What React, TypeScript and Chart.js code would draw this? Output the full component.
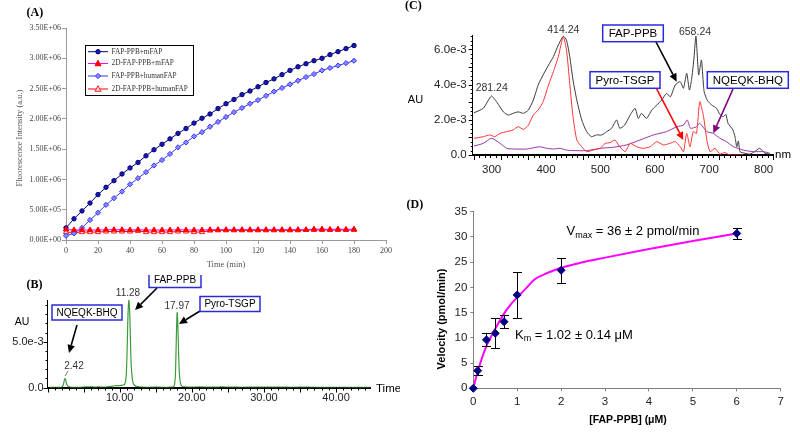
import React, { useEffect, useRef } from "react";
import { Chart, registerables } from "chart.js";
Chart.register(...registerables);

// ---------------- Panel A data (fluorescence, x1e6 a.u.) ----------------
const aTime = [0, 5, 10, 15, 20, 25, 30, 35, 40, 45, 50, 55, 60, 65, 70, 75, 80, 85, 90, 95, 100, 105, 110, 115, 120, 125, 130, 135, 140, 145, 150, 155, 160, 165, 170, 175, 180];
const aFapMouse = [0.2, 0.35, 0.48, 0.61, 0.75, 0.87, 0.98, 1.09, 1.19, 1.28, 1.39, 1.49, 1.58, 1.67, 1.76, 1.84, 1.93, 2.01, 2.08, 2.17, 2.25, 2.32, 2.4, 2.46, 2.53, 2.6, 2.66, 2.73, 2.8, 2.86, 2.91, 2.96, 3.0, 3.06, 3.11, 3.16, 3.21];
const a2dMouse = [0.175, 0.165, 0.165, 0.165, 0.165, 0.17, 0.17, 0.17, 0.165, 0.17, 0.165, 0.165, 0.165, 0.165, 0.17, 0.165, 0.165, 0.165, 0.17, 0.17, 0.17, 0.17, 0.17, 0.17, 0.17, 0.17, 0.17, 0.17, 0.17, 0.17, 0.17, 0.18, 0.18, 0.175, 0.18, 0.175, 0.18];
const aFapHuman = [0.07, 0.11, 0.2, 0.33, 0.45, 0.58, 0.69, 0.8, 0.92, 1.02, 1.12, 1.23, 1.32, 1.42, 1.53, 1.61, 1.71, 1.78, 1.87, 1.95, 2.03, 2.11, 2.18, 2.25, 2.31, 2.38, 2.45, 2.51, 2.57, 2.63, 2.69, 2.74, 2.8, 2.84, 2.88, 2.92, 2.96];
const a2dHuman = [0.13, 0.125, 0.13, 0.13, 0.13, 0.14, 0.14, 0.14, 0.14, 0.15, 0.13, 0.13, 0.13, 0.13, 0.14, 0.14, 0.13, 0.13, 0.155, 0.16, 0.16, 0.16, 0.16, 0.16, 0.16, 0.16, 0.16, 0.16, 0.16, 0.16, 0.165, 0.165, 0.165, 0.165, 0.165, 0.165, 0.165];
const aLabels = ["FAP-PPB+mFAP", "2D-FAP-PPB+mFAP", "FAP-PPB+humanFAP", "2D-FAP-PPB+humanFAP"];

// ---------------- Panel B data (chromatogram, mAU vs min) ----------------
const bTime = [0.3, 1.0, 1.5, 2.0, 2.2, 2.3, 2.42, 2.55, 2.7, 2.9, 3.2, 4, 5, 6, 6.5, 7, 8, 8.5, 9, 9.5, 10, 10.4, 10.7, 10.9, 11.05, 11.15, 11.28, 11.4, 11.5, 11.6, 11.75, 11.9, 12.2, 12.6, 13, 14, 15, 16, 17, 17.5, 17.7, 17.8, 17.9, 17.97, 18.05, 18.15, 18.25, 18.4, 18.6, 19, 20, 21, 22, 23, 24, 25, 26, 27, 28, 29, 30, 32, 34, 36, 38, 40, 42, 44, 44.7];
const bAbs = [0.02, 0.03, 0.02, 0.05, 0.3, 0.7, 1.0, 0.7, 0.3, 0.1, 0.03, 0.02, 0.04, 0.08, 0.04, 0.06, 0.05, 0.1, 0.15, 0.2, 0.22, 0.25, 0.35, 1.2, 4.5, 7.8, 9.6, 8.0, 5.0, 2.5, 1.0, 0.4, 0.15, 0.1, 0.05, 0.03, 0.04, 0.02, 0.04, 0.1, 1.0, 3.5, 6.8, 8.2, 7.2, 4.5, 2.0, 0.6, 0.15, 0.08, 0.05, 0.06, 0.05, 0.04, 0.06, 0.05, 0.04, 0.03, 0.05, 0.04, 0.05, 0.04, 0.03, 0.04, 0.02, 0.03, 0.02, 0.02, 0.02];
const bXTicks = [10, 20, 30, 40];
const bYTicks = [0, 5];

// ---------------- Panel C data (UV spectra, mAU vs nm) ----------------
const cFapPPB: [number, number][] = [[250, 2.4], [267, 2.65], [282, 3.35], [292, 3.0], [304, 2.45], [313, 2.27], [322, 2.37], [331, 2.45], [341, 2.37], [350, 2.56], [359, 3.12], [368, 3.98], [377, 4.55], [387, 5.11], [396, 5.59], [405, 6.25], [414, 6.75], [420, 6.53], [426, 5.59], [432, 4.26], [439, 3.12], [448, 1.99], [457, 1.33], [466, 1.04], [475, 1.14], [485, 1.14], [494, 1.33], [503, 1.52], [512, 1.99], [518, 1.52], [527, 1.7], [537, 2.27], [546, 2.65], [552, 2.08], [558, 2.37], [567, 2.08], [577, 2.56], [586, 2.84], [595, 3.12], [604, 3.5], [611, 3.31], [620, 3.98], [629, 4.17], [635, 3.79], [641, 4.64], [646, 3.69], [650, 4.3], [654, 5.4], [658, 6.75], [663, 4.55], [668, 5.4], [673, 3.6], [679, 3.1], [687, 2.84], [696, 2.65], [702, 2.3], [708, 2.18], [713, 2.3], [717, 1.8], [726, 1.42], [730, 1.0], [733, 0.47], [736, 0.8], [739, 0.19], [748, 0.1], [757, 0.05], [766, 0.19], [775, 0.38], [785, 0.1], [794, 0.05]];
const cPyroTSGP: [number, number][] = [[250, 0.95], [267, 1.04], [279, 1.14], [288, 1.04], [298, 1.23], [310, 1.33], [322, 1.42], [331, 1.61], [341, 1.46], [350, 1.7], [359, 2.27], [368, 2.56], [377, 3.03], [387, 3.98], [396, 4.74], [405, 5.59], [414, 6.72], [420, 5.97], [426, 4.07], [432, 2.18], [439, 0.85], [448, 0.47], [457, 0.19], [469, 0.28], [482, 0.38], [491, 0.66], [500, 0.7], [509, 0.85], [518, 0.47], [528, 0.19], [537, 0.66], [549, 0.47], [561, 0.38], [574, 0.47], [586, 0.76], [598, 0.57], [610, 0.66], [620, 0.76], [629, 0.47], [635, 0.19], [641, 1.23], [647, 0.47], [653, 1.33], [659, 1.23], [665, 3.03], [672, 2.18], [678, 0.85], [684, 0.19], [693, 0.38], [702, 0.05], [711, 0.14], [720, 0.0], [745, 0.0]];
const cNqeqkBHQ: [number, number][] = [[250, 0.51], [267, 0.66], [282, 0.95], [298, 0.66], [310, 0.38], [322, 0.34], [347, 0.34], [371, 0.47], [383, 0.38], [396, 0.34], [408, 0.38], [420, 0.28], [432, 0.25], [457, 0.25], [482, 0.38], [506, 0.44], [530, 0.57], [555, 0.85], [580, 1.14], [604, 1.33], [623, 1.61], [635, 1.7], [642, 1.99], [648, 1.52], [659, 1.61], [665, 1.8], [678, 1.33], [690, 1.23], [702, 0.95], [714, 0.76], [727, 0.47], [745, 0.28], [763, 0.19], [782, 0.19], [794, 0.1]];
const cXTicks = [300, 400, 500, 600, 700, 800];
const cYTicks = [0, 2, 4, 6];

// ---------------- Panel D data (kinetics) ----------------
const dConc = [0, 0.1, 0.3, 0.5, 0.7, 1, 2, 6];
const dVel = [0, 3.5, 9.6, 10.9, 13.2, 18.5, 23.4, 30.7];
const dErr = [0, 0.9, 1.3, 3.0, 1.25, 4.6, 2.45, 1.05];
const dFitConc = [0, 0.1, 0.3, 0.5, 0.7, 0.85, 1, 1.2, 1.4, 1.7, 2, 2.4, 3, 4, 5, 6];
const dFitVel = [0, 3.3, 8.4, 11.8, 14.8, 16.6, 18, 19.8, 21.6, 22.9, 23.9, 24.8, 25.9, 27.6, 29.2, 30.7];

const SANS = "'Liberation Sans', Arial, sans-serif";
const SERIF = "'Liberation Serif', 'Times New Roman', serif";

function fmtE(v: number): string {
  if (Math.abs(v) < 1e-9) return "0.00E+00";
  const e = Math.floor(Math.log10(Math.abs(v)) + 1e-9);
  const m = v / Math.pow(10, e);
  return m.toFixed(2) + "E+" + String(e).padStart(2, "0");
}

type Txt = { t: string; x: number; y: number; f: string; c?: string; a?: CanvasTextAlign; r?: number };
type Box = { x: number; y: number; w: number; h: number; label: string; f: string };
type Arr = { x1: number; y1: number; x2: number; y2: number; c: string; w?: number };
type Rich = { x: number; y: number; parts: { t: string; f: string; dy?: number }[]; c?: string };

function drawMarker(ctx: CanvasRenderingContext2D, style: string, x: number, y: number, r: number, fill: string, stroke: string) {
  ctx.beginPath();
  if (style === "circle") ctx.arc(x, y, r, 0, Math.PI * 2);
  else if (style === "triangle") {
    ctx.moveTo(x, y - r * 1.1);
    ctx.lineTo(x + r, y + r * 0.75);
    ctx.lineTo(x - r, y + r * 0.75);
    ctx.closePath();
  } else {
    ctx.moveTo(x, y - r);
    ctx.lineTo(x + r, y);
    ctx.lineTo(x, y + r);
    ctx.lineTo(x - r, y);
    ctx.closePath();
  }
  ctx.fillStyle = fill;
  ctx.fill();
  ctx.strokeStyle = stroke;
  ctx.lineWidth = 1;
  ctx.stroke();
}

function overlayPlugin(ox: number, oy: number, o: { texts?: Txt[]; boxes?: Box[]; arrows?: Arr[]; rich?: Rich[]; segs?: Arr[] }, extra?: (ctx: CanvasRenderingContext2D) => void) {
  return {
    id: "overlay",
    afterDraw(chart: any) {
      const ctx = chart.ctx as CanvasRenderingContext2D;
      ctx.save();
      ctx.translate(-ox, -oy);
      ctx.textBaseline = "middle";
      (o.segs || []).forEach((s) => {
        ctx.beginPath();
        ctx.strokeStyle = s.c;
        ctx.lineWidth = s.w ?? 1;
        ctx.moveTo(s.x1, s.y1);
        ctx.lineTo(s.x2, s.y2);
        ctx.stroke();
      });
      (o.arrows || []).forEach((a) => {
        const ang = Math.atan2(a.y2 - a.y1, a.x2 - a.x1);
        const hl = 8, hw = 3.8;
        const bx = a.x2 - hl * Math.cos(ang), by = a.y2 - hl * Math.sin(ang);
        ctx.strokeStyle = a.c;
        ctx.fillStyle = a.c;
        ctx.lineWidth = a.w ?? 1.6;
        ctx.beginPath();
        ctx.moveTo(a.x1, a.y1);
        ctx.lineTo(bx, by);
        ctx.stroke();
        ctx.beginPath();
        ctx.moveTo(a.x2, a.y2);
        ctx.lineTo(bx + hw * Math.sin(ang), by - hw * Math.cos(ang));
        ctx.lineTo(bx - hw * Math.sin(ang), by + hw * Math.cos(ang));
        ctx.closePath();
        ctx.fill();
      });
      (o.boxes || []).forEach((b) => {
        ctx.fillStyle = "#fff";
        ctx.fillRect(b.x, b.y, b.w, b.h);
        ctx.strokeStyle = "#2b2bdc";
        ctx.lineWidth = 1.5;
        ctx.strokeRect(b.x, b.y, b.w, b.h);
        ctx.fillStyle = "#000";
        ctx.font = b.f;
        ctx.textAlign = "center";
        ctx.fillText(b.label, b.x + b.w / 2, b.y + b.h / 2 + 0.5);
      });
      (o.texts || []).forEach((t) => {
        ctx.save();
        ctx.font = t.f;
        ctx.fillStyle = t.c || "#000";
        ctx.textAlign = t.a || "left";
        ctx.translate(t.x, t.y);
        if (t.r) ctx.rotate(t.r);
        ctx.fillText(t.t, 0, 0);
        ctx.restore();
      });
      (o.rich || []).forEach((r) => {
        let x = r.x;
        ctx.fillStyle = r.c || "#000";
        ctx.textAlign = "left";
        r.parts.forEach((p) => {
          ctx.font = p.f;
          ctx.fillText(p.t, x, r.y + (p.dy || 0));
          x += ctx.measureText(p.t).width;
        });
      });
      if (extra) extra(ctx);
      ctx.restore();
    },
  };
}

function minorTicksPlugin(cfg: { xStep: number; xMajor: number; yStep: number; yMajor: number; xLen: [number, number]; yLen: [number, number] }) {
  return {
    id: "minorTicks",
    afterDraw(chart: any) {
      const ctx = chart.ctx as CanvasRenderingContext2D;
      const xs = chart.scales.x, ys = chart.scales.y, a = chart.chartArea;
      ctx.save();
      ctx.strokeStyle = "#000";
      ctx.lineWidth = 1;
      ctx.beginPath();
      const i0 = Math.ceil(xs.min / cfg.xStep - 1e-9), i1 = Math.floor(xs.max / cfg.xStep + 1e-9);
      for (let i = i0; i <= i1; i++) {
        const v = i * cfg.xStep;
        const maj = Math.abs(v / cfg.xMajor - Math.round(v / cfg.xMajor)) < 1e-6;
        const px = Math.round(xs.getPixelForValue(v)) + 0.5;
        ctx.moveTo(px, a.bottom);
        ctx.lineTo(px, a.bottom + (maj ? cfg.xLen[1] : cfg.xLen[0]));
      }
      const j0 = Math.ceil(ys.min / cfg.yStep - 1e-9), j1 = Math.floor(ys.max / cfg.yStep + 1e-9);
      for (let j = j0; j <= j1; j++) {
        const v = j * cfg.yStep;
        const maj = Math.abs(v / cfg.yMajor - Math.round(v / cfg.yMajor)) < 1e-6;
        const py = Math.round(ys.getPixelForValue(v)) + 0.5;
        ctx.moveTo(a.left, py);
        ctx.lineTo(a.left - (maj ? cfg.yLen[1] : cfg.yLen[0]), py);
      }
      ctx.stroke();
      ctx.restore();
    },
  };
}

function makeA(canvas: HTMLCanvasElement) {
  const series = [aFapMouse, a2dMouse, aFapHuman, a2dHuman];
  const lineC = ["#000080", "#ff00ff", "#3535ff", "#ff0000"];
  const fillC = ["#1a1aa8", "#ff0000", "#8888ff", "#ffd6d6"];
  const strokeC = ["#000080", "#ff0000", "#3535ff", "#ff2020"];
  const styles = ["circle", "triangle", "rectRot", "triangle"];
  const radii = [2.2, 3, 2.6, 3];
  const orders = [1, 0, 2, 3];
  const legendY = [51.7, 63.5, 76, 89];
  return new Chart(canvas, {
    type: "line",
    data: {
      datasets: series.map((s, k) => ({
        label: aLabels[k],
        data: aTime.map((t, i) => ({ x: t, y: s[i] })),
        borderColor: lineC[k],
        borderWidth: 1,
        backgroundColor: fillC[k],
        pointBackgroundColor: fillC[k],
        pointBorderColor: strokeC[k],
        pointBorderWidth: 1,
        pointStyle: styles[k] as any,
        pointRadius: radii[k],
        order: orders[k],
        clip: false as any,
        tension: 0,
      })),
    },
    options: {
      animation: false,
      responsive: false,
      layout: { padding: { left: 0, top: 28, right: 14, bottom: 0 } },
      plugins: { legend: { display: false }, tooltip: { enabled: false } },
      scales: {
        x: {
          type: "linear",
          min: 0,
          max: 200,
          ticks: { stepSize: 20, font: { family: SERIF, size: 8 }, color: "#444", padding: 2, maxRotation: 0 },
          grid: { drawOnChartArea: false, drawTicks: true, tickLength: 4, color: "#999" },
          border: { color: "#999" },
          afterFit: (s: any) => { s.height = 35; },
        },
        y: {
          min: 0,
          max: 3.5,
          ticks: { stepSize: 0.5, font: { family: SERIF, size: 8 }, color: "#444", padding: 1, callback: (v: any) => fmtE(Number(v) * 1e6) },
          grid: { drawOnChartArea: false, drawTicks: true, tickLength: 4, color: "#999" },
          border: { color: "#999" },
          afterFit: (s: any) => { s.width = 66; },
        },
      },
    },
    plugins: [
      overlayPlugin(0, 0, {
        texts: [
          { t: "(A)", x: 26.5, y: 13, f: `bold 12px ${SERIF}` },
          { t: "Fluorescence Intensity (a.u.)", x: 20, y: 138, f: `8.5px ${SERIF}`, c: "#555", a: "center", r: -Math.PI / 2 },
          { t: "Time (min)", x: 226, y: 265, f: `8.5px ${SERIF}`, c: "#555", a: "center" },
        ],
      }, (ctx) => {
        ctx.fillStyle = "#fff";
        ctx.fillRect(85, 45, 108, 50);
        ctx.strokeStyle = "#000";
        ctx.lineWidth = 1;
        ctx.strokeRect(85.5, 45.5, 108, 50);
        legendY.forEach((y, k) => {
          ctx.beginPath();
          ctx.strokeStyle = lineC[k];
          ctx.lineWidth = 1;
          ctx.moveTo(88, y);
          ctx.lineTo(108, y);
          ctx.stroke();
          drawMarker(ctx, styles[k], 98, y, radii[k], fillC[k], strokeC[k]);
          ctx.fillStyle = "#333";
          ctx.font = `7.3px ${SERIF}`;
          ctx.textAlign = "left";
          ctx.fillText(aLabels[k], 111.5, y);
        });
      }) as any,
    ],
  });
}

function makeB(canvas: HTMLCanvasElement) {
  const ox = 0, oy = 275;
  return new Chart(canvas, {
    type: "line",
    data: {
      datasets: [{
        data: bTime.map((t, i) => ({ x: t, y: bAbs[i] })),
        borderColor: "#3c9c3c",
        borderWidth: 1.2,
        pointRadius: 0,
        tension: 0.3,
      }],
    },
    options: {
      animation: false,
      responsive: false,
      layout: { padding: { left: 0, top: 25, right: 30, bottom: 0 } },
      plugins: { legend: { display: false }, tooltip: { enabled: false } },
      scales: {
        x: {
          type: "linear",
          min: 0,
          max: 44.7,
          afterBuildTicks: (s: any) => { s.ticks = bXTicks.map((v) => ({ value: v })); },
          ticks: { font: { family: SANS, size: 11 }, color: "#222", padding: 4, maxRotation: 0, autoSkip: false, callback: (v: any) => Number(v).toFixed(2) },
          grid: { display: false, drawTicks: false },
          border: { display: true, color: "#000", width: 2 },
          afterFit: (s: any) => { s.height = 46.5; },
        },
        y: {
          min: 0,
          max: 9.57,
          afterBuildTicks: (s: any) => { s.ticks = bYTicks.map((v) => ({ value: v })); },
          ticks: { font: { family: SANS, size: 11 }, color: "#222", padding: 4, autoSkip: false, callback: (v: any) => (Number(v) === 0 ? "0.0" : Number(v).toFixed(1) + "e-3") },
          grid: { display: false, drawTicks: false },
          border: { display: true, color: "#000", width: 1 },
          afterFit: (s: any) => { s.width = 47.5; },
        },
      },
    },
    plugins: [
      minorTicksPlugin({ xStep: 1, xMajor: 5, yStep: 1, yMajor: 5, xLen: [3, 5], yLen: [2, 4] }) as any,
      overlayPlugin(ox, oy, {
        texts: [
          { t: "(B)", x: 26.5, y: 285, f: `bold 12px ${SERIF}` },
          { t: "AU", x: 22, y: 322, f: `10.5px ${SANS}`, a: "center" },
          { t: "Time", x: 376, y: 389, f: `11.5px ${SANS}` },
          { t: "11.28", x: 128, y: 293, f: `10px ${SANS}`, c: "#333", a: "center" },
          { t: "17.97", x: 177, y: 306.5, f: `10px ${SANS}`, c: "#333", a: "center" },
          { t: "2.42", x: 74, y: 366.5, f: `10px ${SANS}`, c: "#333", a: "center" },
        ],
        segs: [{ x1: 68, y1: 371, x2: 65, y2: 376, c: "#555", w: 0.8 }],
        arrows: [
          { x1: 77, y1: 325, x2: 69, y2: 353, c: "#000" },
          { x1: 157, y1: 288, x2: 135, y2: 310, c: "#000" },
          { x1: 200, y1: 311, x2: 179, y2: 324, c: "#000" },
        ],
        boxes: [
          { x: 52, y: 305, w: 70, h: 15, label: "NQEQK-BHQ", f: `10px ${SANS}` },
          { x: 149, y: 272.5, w: 52, h: 15, label: "FAP-PPB", f: `10px ${SANS}` },
          { x: 200, y: 296.5, w: 60, h: 15, label: "Pyro-TSGP", f: `10px ${SANS}` },
        ],
      }) as any,
    ],
  });
}

function makeC(canvas: HTMLCanvasElement) {
  const ox = 400, oy = 0;
  const mk = (pts: [number, number][], color: string) => ({
    data: pts.map((p) => ({ x: p[0], y: p[1] })),
    borderColor: color,
    borderWidth: 1,
    pointRadius: 0,
    tension: 0.2,
  });
  return new Chart(canvas, {
    type: "line",
    data: { datasets: [mk(cPyroTSGP, "#ff3333"), mk(cNqeqkBHQ, "#9933aa"), mk(cFapPPB, "#3a3a3a")] },
    options: {
      animation: false,
      responsive: false,
      layout: { padding: { left: 0, top: 35, right: 26.8, bottom: 0 } },
      plugins: { legend: { display: false }, tooltip: { enabled: false } },
      scales: {
        x: {
          type: "linear",
          min: 247.6,
          max: 800,
          afterBuildTicks: (s: any) => { s.ticks = cXTicks.map((v) => ({ value: v })); },
          ticks: { font: { family: SANS, size: 11.5 }, color: "#222", padding: 8, align: "end", maxRotation: 0, autoSkip: false },
          grid: { display: false, drawTicks: false },
          border: { display: true, color: "#000", width: 2 },
          afterFit: (s: any) => { s.height = 25; },
        },
        y: {
          min: 0,
          max: 6.82,
          afterBuildTicks: (s: any) => { s.ticks = cYTicks.map((v) => ({ value: v })); },
          ticks: { font: { family: SANS, size: 11.5 }, color: "#222", padding: 6, autoSkip: false, callback: (v: any) => (Number(v) === 0 ? "0.0" : Number(v).toFixed(1) + "e-3") },
          grid: { display: false, drawTicks: false },
          border: { display: true, color: "#000", width: 1 },
          afterFit: (s: any) => { s.width = 72.7; },
        },
      },
    },
    plugins: [
      minorTicksPlugin({ xStep: 10, xMajor: 50, yStep: 0.25, yMajor: 1, xLen: [3, 5], yLen: [2, 4] }) as any,
      overlayPlugin(ox, oy, {
        texts: [
          { t: "(C)", x: 405, y: 6, f: `bold 12px ${SERIF}` },
          { t: "AU", x: 415.5, y: 100, f: `11px ${SANS}`, a: "center" },
          { t: "nm", x: 775, y: 155, f: `11.5px ${SANS}` },
          { t: "414.24", x: 563.3, y: 30, f: `10.5px ${SANS}`, c: "#333", a: "center" },
          { t: "281.24", x: 491.7, y: 88.3, f: `10.5px ${SANS}`, c: "#333", a: "center" },
          { t: "658.24", x: 695, y: 31.7, f: `10.5px ${SANS}`, c: "#333", a: "center" },
        ],
        arrows: [
          { x1: 655, y1: 40, x2: 676.7, y2: 81.7, c: "#000" },
          { x1: 656.7, y1: 89, x2: 683.3, y2: 140, c: "#ff0000" },
          { x1: 733, y1: 89, x2: 713.3, y2: 133.3, c: "#800080" },
        ],
        boxes: [
          { x: 602.7, y: 25, w: 60.6, h: 16.7, label: "FAP-PPB", f: `11.5px ${SANS}` },
          { x: 590, y: 71.7, w: 70, h: 16.6, label: "Pyro-TSGP", f: `11.5px ${SANS}` },
          { x: 707.3, y: 71.7, w: 81, h: 16.6, label: "NQEQK-BHQ", f: `11.5px ${SANS}` },
        ],
      }) as any,
    ],
  });
}

function makeD(canvas: HTMLCanvasElement) {
  const ox = 400, oy = 180;
  const errPlugin = {
    id: "errbars",
    afterDatasetDraw(chart: any, args: any) {
      if (args.index !== 1) return;
      const ctx = chart.ctx as CanvasRenderingContext2D;
      const xs = chart.scales.x, ys = chart.scales.y;
      ctx.save();
      ctx.strokeStyle = "#000";
      ctx.lineWidth = 1;
      ctx.beginPath();
      dConc.forEach((c, i) => {
        if (!dErr[i]) return;
        const px = Math.round(xs.getPixelForValue(c)) + 0.5;
        const t = Math.round(ys.getPixelForValue(dVel[i] + dErr[i])) + 0.5;
        const b = Math.round(ys.getPixelForValue(dVel[i] - dErr[i])) + 0.5;
        ctx.moveTo(px, t); ctx.lineTo(px, b);
        ctx.moveTo(px - 4.5, t); ctx.lineTo(px + 4.5, t);
        ctx.moveTo(px - 4.5, b); ctx.lineTo(px + 4.5, b);
      });
      ctx.stroke();
      ctx.restore();
    },
  };
  return new Chart(canvas, {
    type: "scatter",
    data: {
      datasets: [
        {
          data: dConc.map((c, i) => ({ x: c, y: dVel[i] })),
          pointStyle: "rectRot",
          pointRadius: 4,
          pointBackgroundColor: "#000080",
          pointBorderColor: "#000080",
          showLine: false,
          clip: false as any,
        },
        {
          data: dFitConc.map((c, i) => ({ x: c, y: dFitVel[i] })),
          showLine: true,
          borderColor: "#ff00ff",
          borderWidth: 2,
          pointRadius: 0,
          cubicInterpolationMode: "monotone",
        } as any,
      ],
    },
    options: {
      animation: false,
      responsive: false,
      layout: { padding: { left: 0, top: 31.7, right: 19.3, bottom: 0 } },
      plugins: { legend: { display: false }, tooltip: { enabled: false } },
      scales: {
        x: {
          type: "linear",
          min: 0,
          max: 7,
          ticks: { stepSize: 1, font: { family: SANS, size: 11.5 }, color: "#222", padding: 4, maxRotation: 0 },
          grid: { drawOnChartArea: false, drawTicks: true, tickLength: 3, color: "#808080" },
          border: { color: "#808080" },
          afterFit: (s: any) => { s.height = 45.7; },
        },
        y: {
          min: 0,
          max: 35,
          ticks: { stepSize: 5, font: { family: SANS, size: 11.5 }, color: "#222", padding: 3 },
          grid: { drawOnChartArea: false, drawTicks: true, tickLength: 3, color: "#808080" },
          border: { color: "#808080" },
          afterFit: (s: any) => { s.width = 73.3; },
        },
      },
    },
    plugins: [
      errPlugin as any,
      overlayPlugin(ox, oy, {
        texts: [
          { t: "(D)", x: 406.5, y: 205, f: `bold 12px ${SERIF}` },
          { t: "Velocity (pmol/min)", x: 441.7, y: 319, f: `bold 11px ${SANS}`, a: "center", r: -Math.PI / 2 },
          { t: "[FAP-PPB] (\u03bcM)", x: 628, y: 420, f: `bold 10.5px ${SANS}`, a: "center" },
        ],
        rich: [
          { x: 566.5, y: 231.7, parts: [{ t: "V", f: `13px ${SANS}` }, { t: "max", f: `9px ${SANS}`, dy: 4 }, { t: " = 36 \u00b1 2 pmol/min", f: `13px ${SANS}` }] },
          { x: 515, y: 335, parts: [{ t: "K", f: `13px ${SANS}` }, { t: "m", f: `9px ${SANS}`, dy: 4 }, { t: " = 1.02 \u00b1 0.14 \u03bcM", f: `13px ${SANS}` }] },
        ],
      }) as any,
    ],
  });
}

export default function App() {
  const refA = useRef<HTMLCanvasElement>(null);
  const refB = useRef<HTMLCanvasElement>(null);
  const refC = useRef<HTMLCanvasElement>(null);
  const refD = useRef<HTMLCanvasElement>(null);
  useEffect(() => {
    const charts = [makeA(refA.current!), makeB(refB.current!), makeC(refC.current!), makeD(refD.current!)];
    return () => charts.forEach((c) => c.destroy());
  }, []);
  const cs = (l: number, t: number, w: number, h: number): React.CSSProperties => ({ position: "absolute", left: l, top: t, width: w, height: h });
  return (
    <div style={{ position: "absolute", left: 0, top: 0, width: 800, height: 434, background: "#fff", overflow: "hidden" }}>
      <canvas ref={refA} width={400} height={275} style={cs(0, 0, 400, 275)} />
      <canvas ref={refB} width={400} height={159} style={cs(0, 275, 400, 159)} />
      <canvas ref={refC} width={400} height={180} style={cs(400, 0, 400, 180)} />
      <canvas ref={refD} width={400} height={254} style={cs(400, 180, 400, 254)} />
    </div>
  );
}
